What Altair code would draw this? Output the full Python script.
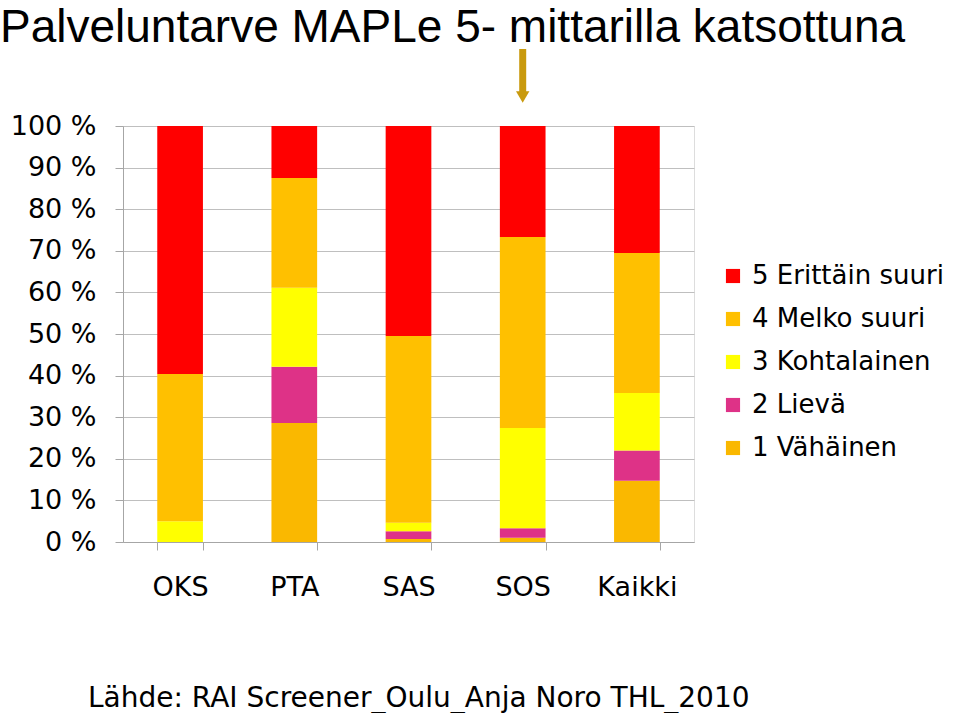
import altair as alt
import pandas as pd

categories = ["OKS", "PTA", "SAS", "SOS", "Kaikki"]
levels = ["1 Vähäinen", "2 Lievä", "3 Kohtalainen", "4 Melko suuri", "5 Erittäin suuri"]
level_colors = ["#FAB800", "#DE3287", "#FFFF00", "#FFC000", "#FF0000"]
# percentage values per category, level 1..5
values = {
    "OKS":    [0.0, 0.0, 5.0, 35.4, 59.6],
    "PTA":    [28.6, 13.5, 19.0, 26.4, 12.5],
    "SAS":    [0.7, 1.9, 2.0, 44.9, 50.5],
    "SOS":    [1.0, 2.3, 24.1, 45.9, 26.7],
    "Kaikki": [14.7, 7.3, 13.8, 33.7, 30.5],
}
y_ticks = [0, 10, 20, 30, 40, 50, 60, 70, 80, 90, 100]
title_text = "Palveluntarve MAPLe 5- mittarilla katsottuna"
source_text = "Lähde: RAI Screener_Oulu_Anja Noro THL_2010"

rows = []
for c in categories:
    for i, lv in enumerate(levels):
        rows.append({"cat": c, "level": lv, "ord": i, "val": values[c][i]})
df = pd.DataFrame(rows)

legend_order = list(reversed(levels))
legend_colors = list(reversed(level_colors))

xenc = alt.X("cat:N", sort=categories, title=None,
             scale=alt.Scale(paddingInner=0.6, paddingOuter=0.3),
             axis=alt.Axis(labelAngle=0, labelFont="DejaVu Sans", labelFontSize=27,
                           labelColor="#000000", labelPadding=24, tickSize=8,
                           tickBand="extent", tickColor="#A6A6A6", domainColor="#A6A6A6",
                           grid=False))

bars = alt.Chart(df).mark_bar().encode(
    x=xenc,
    y=alt.Y("val:Q", stack="zero", title=None,
            scale=alt.Scale(domain=[0, 100], nice=False),
            axis=alt.Axis(values=y_ticks, labelExpr="datum.value + ' %'",
                          labelFont="DejaVu Sans", labelFontSize=27, labelColor="#000000",
                          labelPadding=19, tickSize=8, tickColor="#A6A6A6",
                          domainColor="#A6A6A6", gridColor="#BFBFBF", grid=True)),
    color=alt.Color("level:N",
                    scale=alt.Scale(domain=legend_order, range=legend_colors),
                    legend=alt.Legend(title=None, orient="none", legendX=597, legendY=137,
                                      symbolType="square", symbolSize=200,
                                      symbolStrokeWidth=0, labelFont="DejaVu Sans",
                                      labelFontSize=26, labelColor="#000000",
                                      rowPadding=17, labelOffset=6, labelLimit=400)),
    order=alt.Order("ord:Q", sort="ascending"),
)

arrow_df = pd.DataFrame({"cat": ["SOS"]})
shaft = alt.Chart(arrow_df).mark_rule(color="#C99A0E", strokeWidth=7).encode(
    x=alt.X("cat:N", sort=categories),
    y=alt.value(-77), y2=alt.value(-33))
head = alt.Chart(arrow_df).mark_point(shape="triangle-down", filled=True,
                                      color="#C99A0E", opacity=1, size=180).encode(
    x=alt.X("cat:N", sort=categories), y=alt.value(-29))

title_df = pd.DataFrame({"t": [title_text]})
title = alt.Chart(title_df).mark_text(font="Liberation Sans", fontSize=46, align="left",
                                      baseline="alphabetic", color="#000000").encode(
    text="t:N", x=alt.value(-123), y=alt.value(-84))

src_df = pd.DataFrame({"t": [source_text]})
source = alt.Chart(src_df).mark_text(font="DejaVu Sans", fontSize=28, align="left",
                                     baseline="alphabetic", color="#000000").encode(
    text="t:N", x=alt.value(-35), y=alt.value(581))

chart = alt.layer(bars, shaft, head, title, source).properties(
    width=571, height=416,
    autosize=alt.AutoSizeParams(type="none"),
    padding={"left": 123, "top": 126, "right": 265, "bottom": 171},
).configure_view(stroke=None).configure(background="#FFFFFF")

chart.save("out.html", embed_options={"renderer": "svg", "actions": False})
